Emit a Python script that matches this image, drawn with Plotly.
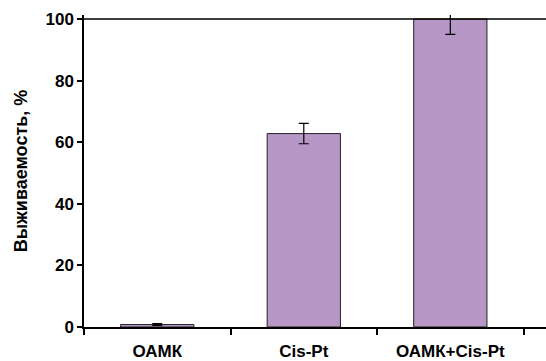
import plotly.graph_objects as go

categories = ["ОАМК", "Cis-Pt", "ОАМК+Cis-Pt"]
survival = [0.8, 62.8, 100.0]
errors = [0.3, 3.3, 5.0]
y_ticks = [0, 20, 40, 60, 80, 100]

fig = go.Figure()
fig.add_trace(go.Bar(
    x=list(range(len(categories))),
    y=survival,
    width=0.5,
    marker=dict(color="#B797C6", line=dict(color="#222222", width=1)),
    error_y=dict(type="data", array=errors, color="#000000", thickness=1.2, width=5),
))

fig.add_shape(type="line", xref="paper", x0=0, x1=1, yref="y", y0=max(y_ticks), y1=max(y_ticks),
              line=dict(color="#000000", width=1.5))

fig.update_layout(
    width=546, height=361,
    margin=dict(l=84, r=0, t=15, b=34),
    paper_bgcolor="white", plot_bgcolor="white",
    showlegend=False,
    font=dict(family="Liberation Sans, Arial, sans-serif", size=17, color="#000000"),
    xaxis=dict(
        range=[-0.5, 2.653],
        tickmode="array",
        tickvals=list(range(len(categories))),
        ticktext=["<b>%s</b>" % c for c in categories],
        showline=True, linecolor="#000000", linewidth=1.5,
        ticks="", showgrid=False, zeroline=False,
        tickfont=dict(size=17),
        ticklabelstandoff=8,
        automargin=False,
        minor=dict(tickmode="array", tickvals=[-0.5, 0.5, 1.5, 2.5], ticks="outside",
                   ticklen=6, tickcolor="#000000", tickwidth=1.5),
    ),
    yaxis=dict(
        range=[0, 101.3],
        tickmode="array",
        tickvals=y_ticks,
        ticktext=["<b>%d</b>" % v for v in y_ticks],
        showline=True, linecolor="#000000", linewidth=1.5,
        ticks="outside", ticklen=5, tickcolor="#000000", tickwidth=1.5,
        showgrid=False, zeroline=False,
        tickfont=dict(size=17),
        title=dict(text="<b>Выживаемость, %</b>", font=dict(size=18), standoff=13),
        automargin=False,
    ),
)

fig.write_html("out.html", config={"displayModeBar": False},
               post_script="document.body.style.margin='0px';")
